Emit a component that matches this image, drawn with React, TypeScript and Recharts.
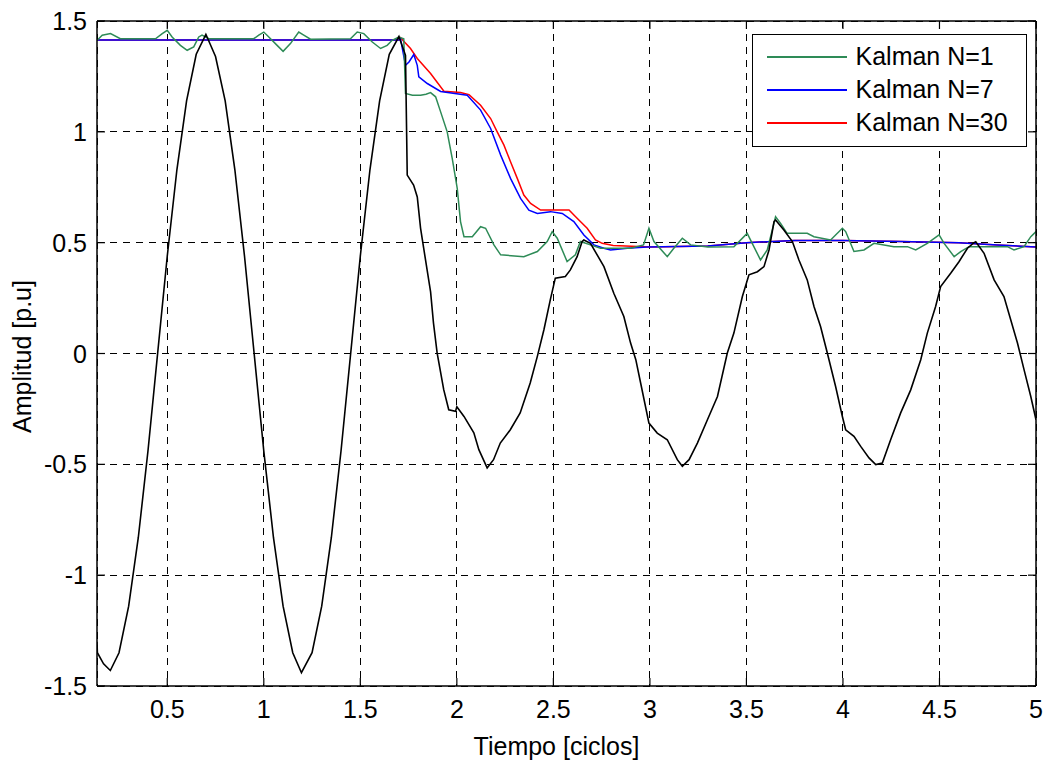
import React from "react";
import { LineChart, Line, XAxis, YAxis, CartesianGrid, Legend } from "recharts";

// x in cycles, y in p.u.
const X_MIN = 0.136;
const X_MAX = 5;
const xTicks = [0.5, 1, 1.5, 2, 2.5, 3, 3.5, 4, 4.5, 5];
const yTicks = [-1.5, -1, -0.5, 0, 0.5, 1, 1.5];

const measured: [number, number][] = [
  [0.136, -1.3], [0.138, -1.35], [0.17, -1.4], [0.205, -1.43], [0.25, -1.35],
  [0.3, -1.14], [0.35, -0.83], [0.4, -0.44], [0.45, 0.0], [0.5, 0.44],
  [0.55, 0.83], [0.6, 1.14], [0.65, 1.35], [0.7, 1.44], [0.75, 1.34],
  [0.8, 1.14], [0.85, 0.83], [0.9, 0.44], [0.95, 0.0], [1.0, -0.44],
  [1.05, -0.83], [1.1, -1.14], [1.15, -1.35], [1.195, -1.44], [1.25, -1.35],
  [1.3, -1.14], [1.35, -0.83], [1.4, -0.44], [1.45, 0.0], [1.5, 0.44],
  [1.55, 0.83], [1.6, 1.14], [1.65, 1.35], [1.7, 1.43], [1.734, 1.345],
  [1.743, 0.805], [1.776, 0.76], [1.795, 0.706], [1.812, 0.566], [1.828, 0.476],
  [1.864, 0.278], [1.879, 0.137], [1.898, 0.002], [1.932, -0.163], [1.958, -0.254],
  [1.993, -0.261], [2.0, -0.24], [2.037, -0.284], [2.088, -0.358], [2.114, -0.434],
  [2.157, -0.516], [2.19, -0.479], [2.225, -0.404], [2.277, -0.344], [2.328, -0.268],
  [2.38, -0.133], [2.417, -0.013], [2.451, 0.107], [2.484, 0.242], [2.51, 0.34],
  [2.562, 0.347], [2.588, 0.377], [2.623, 0.437], [2.649, 0.505], [2.658, 0.512],
  [2.692, 0.497], [2.762, 0.392], [2.813, 0.272], [2.865, 0.167], [2.9, 0.047],
  [2.927, -0.028], [2.952, -0.133], [2.995, -0.314], [3.038, -0.359], [3.09, -0.389],
  [3.142, -0.479], [3.168, -0.509], [3.203, -0.479], [3.246, -0.404], [3.298, -0.299],
  [3.35, -0.194], [3.401, 0.002], [3.435, 0.092], [3.479, 0.257], [3.513, 0.355],
  [3.557, 0.369], [3.591, 0.392], [3.617, 0.467], [3.643, 0.595], [3.651, 0.602],
  [3.694, 0.557], [3.738, 0.505], [3.772, 0.422], [3.815, 0.332], [3.85, 0.212],
  [3.884, 0.122], [3.919, 0.002], [3.962, -0.149], [3.997, -0.284], [4.014, -0.344],
  [4.057, -0.374], [4.092, -0.419], [4.135, -0.471], [4.17, -0.501], [4.204, -0.494],
  [4.247, -0.389], [4.299, -0.268], [4.351, -0.164], [4.403, -0.028], [4.437, 0.092],
  [4.48, 0.212], [4.506, 0.302], [4.558, 0.362], [4.601, 0.414], [4.645, 0.475],
  [4.679, 0.5], [4.688, 0.504], [4.731, 0.452], [4.783, 0.332], [4.834, 0.257],
  [4.869, 0.152], [4.904, 0.047], [4.938, -0.073], [4.973, -0.194], [5.0, -0.299],
];

const kalmanN1: [number, number][] = [
  [0.137, 1.413], [0.163, 1.436], [0.206, 1.443], [0.257, 1.42], [0.439, 1.42],
  [0.474, 1.443], [0.5, 1.458], [0.525, 1.428], [0.568, 1.39], [0.603, 1.368],
  [0.637, 1.383], [0.663, 1.428], [0.68, 1.436], [0.715, 1.42], [0.948, 1.42],
  [0.974, 1.436], [1.0, 1.45], [1.026, 1.428], [1.069, 1.39], [1.1, 1.363],
  [1.138, 1.398], [1.181, 1.45], [1.207, 1.436], [1.242, 1.418], [1.449, 1.42],
  [1.484, 1.45], [1.518, 1.443], [1.562, 1.405], [1.605, 1.376], [1.639, 1.39],
  [1.665, 1.413], [1.699, 1.428], [1.725, 1.42], [1.734, 1.173], [1.77, 1.165],
  [1.812, 1.165], [1.84, 1.17], [1.864, 1.177], [1.89, 1.158], [1.916, 1.09],
  [1.95, 1.0], [1.976, 0.88], [2.002, 0.745], [2.019, 0.595], [2.037, 0.527],
  [2.08, 0.527], [2.123, 0.572], [2.149, 0.565], [2.192, 0.49], [2.227, 0.445],
  [2.347, 0.437], [2.417, 0.46], [2.468, 0.505], [2.494, 0.55], [2.52, 0.52],
  [2.571, 0.415], [2.614, 0.445], [2.64, 0.505], [2.692, 0.49], [2.744, 0.475],
  [2.9, 0.475], [2.967, 0.49], [2.995, 0.565], [3.021, 0.505], [3.09, 0.437],
  [3.124, 0.475], [3.168, 0.52], [3.211, 0.49], [3.3, 0.48], [3.435, 0.482],
  [3.504, 0.542], [3.53, 0.497], [3.573, 0.422], [3.608, 0.467], [3.651, 0.617],
  [3.677, 0.587], [3.711, 0.542], [3.815, 0.542], [3.85, 0.527], [3.936, 0.512],
  [3.997, 0.565], [4.014, 0.55], [4.057, 0.46], [4.109, 0.467], [4.161, 0.497],
  [4.264, 0.482], [4.334, 0.482], [4.377, 0.467], [4.437, 0.497], [4.498, 0.535],
  [4.524, 0.497], [4.576, 0.437], [4.61, 0.46], [4.653, 0.482], [4.748, 0.482],
  [4.852, 0.482], [4.886, 0.467], [4.938, 0.482], [4.973, 0.527], [5.0, 0.55],
];

const kalmanN7: [number, number][] = [
  [0.136, 1.414], [1.7, 1.414], [1.708, 1.42], [1.734, 1.3], [1.752, 1.315],
  [1.777, 1.349], [1.795, 1.3], [1.803, 1.248], [1.847, 1.218], [1.916, 1.182],
  [2.054, 1.165], [2.123, 1.098], [2.175, 1.015], [2.227, 0.895], [2.278, 0.79],
  [2.33, 0.7], [2.373, 0.647], [2.417, 0.632], [2.485, 0.64], [2.546, 0.632],
  [2.606, 0.595], [2.658, 0.535], [2.71, 0.49], [2.762, 0.475], [2.796, 0.467],
  [2.883, 0.475], [2.986, 0.48], [3.3, 0.485], [3.5, 0.5], [3.75, 0.51],
  [4.0, 0.51], [4.3, 0.505], [4.6, 0.5], [4.8, 0.49], [5.0, 0.48],
];

const kalmanN30: [number, number][] = [
  [0.136, 1.414], [1.7, 1.414], [1.708, 1.425], [1.76, 1.376], [1.795, 1.331],
  [1.864, 1.263], [1.933, 1.183], [2.019, 1.177], [2.063, 1.168], [2.123, 1.12],
  [2.175, 1.06], [2.209, 1.0], [2.244, 0.94], [2.278, 0.865], [2.313, 0.79],
  [2.347, 0.715], [2.382, 0.677], [2.434, 0.647], [2.581, 0.647], [2.623, 0.61],
  [2.675, 0.565], [2.718, 0.512], [2.753, 0.497], [2.81, 0.487], [3.0, 0.48],
  [3.3, 0.485], [3.5, 0.5], [3.75, 0.51], [4.0, 0.51], [4.3, 0.505],
  [4.6, 0.5], [4.8, 0.49], [5.0, 0.48],
];

const legendOrder = ["Kalman N=1", "Kalman N=7", "Kalman N=30"];

const FONT = '"Liberation Sans", Arial, Helvetica, sans-serif';
const FS = 25;
const TICK = 8;
const GREEN = "#2e8b57";

const toPoints = (s: [number, number][]) => s.map(([x, y]) => ({ x, y }));

function BottomTick({ x, y, payload }: any) {
  return (
    <g>
      <line x1={x} y1={y} x2={x} y2={y - TICK} stroke="#000" strokeWidth={1.2} />
      <text x={x} y={y + 32} textAnchor="middle" fontSize={FS} fontFamily={FONT} fill="#000">
        {String(payload.value)}
      </text>
    </g>
  );
}

function LeftTick({ x, y, payload }: any) {
  return (
    <g>
      <line x1={x} y1={y} x2={x + TICK} y2={y} stroke="#000" strokeWidth={1.2} />
      <text x={x - 10} y={y + 9} textAnchor="end" fontSize={FS} fontFamily={FONT} fill="#000">
        {String(payload.value)}
      </text>
    </g>
  );
}

function TopTick({ x, y }: any) {
  return <line x1={x} y1={y} x2={x} y2={y + TICK} stroke="#000" strokeWidth={1.2} />;
}

function RightTick({ x, y }: any) {
  return <line x1={x} y1={y} x2={x - TICK} y2={y} stroke="#000" strokeWidth={1.2} />;
}

function LegendBox({ payload }: any) {
  const items = legendOrder
    .map((n) => (payload || []).find((p: any) => p.value === n))
    .filter(Boolean);
  return (
    <div
      style={{
        width: 275,
        height: 113,
        boxSizing: "border-box",
        border: "1.5px solid #000",
        background: "#fff",
        paddingTop: 5,
        fontFamily: FONT,
        fontSize: FS,
        color: "#000",
      }}
    >
      {items.map((it: any) => (
        <div key={it.value} style={{ display: "flex", alignItems: "center", height: 33 }}>
          <svg width={80} height={4} style={{ marginLeft: 13.5, marginRight: 9 }}>
            <line x1={0} y1={2} x2={80} y2={2} stroke={it.color} strokeWidth={2} />
          </svg>
          <span style={{ lineHeight: "33px", whiteSpace: "nowrap" }}>{it.value}</span>
        </div>
      ))}
    </div>
  );
}

export default function App() {
  return (
    <div style={{ position: "absolute", left: 0, top: 0, background: "#fff" }}>
      <LineChart width={1050} height={764} margin={{ top: 0, right: 0, bottom: 0, left: 0 }}>
        <CartesianGrid stroke="#000" strokeWidth={1} strokeDasharray="7 6" shapeRendering="crispEdges" />
        <XAxis
          type="number"
          dataKey="x"
          domain={[X_MIN, X_MAX]}
          allowDataOverflow
          ticks={xTicks}
          interval={0}
          height={78}
          tickSize={0}
          tickMargin={0}
          tickLine={false}
          axisLine={{ stroke: "#000", strokeWidth: 1.5 }}
          tick={<BottomTick />}
          label={{
            content: (p: any) => (
              <text
                x={p.viewBox.x + p.viewBox.width / 2 - 10}
                y={p.viewBox.y + 69}
                textAnchor="middle"
                fontSize={FS}
                fontFamily={FONT}
                fill="#000"
              >
                Tiempo [ciclos]
              </text>
            ),
          }}
        />
        <XAxis
          xAxisId="top"
          orientation="top"
          type="number"
          dataKey="x"
          domain={[X_MIN, X_MAX]}
          allowDataOverflow
          ticks={xTicks}
          interval={0}
          height={21}
          tickSize={0}
          tickMargin={0}
          tickLine={false}
          axisLine={{ stroke: "#000", strokeWidth: 1.5 }}
          tick={<TopTick />}
        />
        <YAxis
          type="number"
          domain={[-1.5, 1.5]}
          allowDataOverflow
          ticks={yTicks}
          interval={0}
          width={97}
          tickSize={0}
          tickMargin={0}
          tickLine={false}
          axisLine={{ stroke: "#000", strokeWidth: 1.5 }}
          tick={<LeftTick />}
          label={{
            content: (p: any) => {
              const cx = 31;
              const cy = p.viewBox.y + p.viewBox.height / 2 + 3;
              return (
                <text
                  x={cx}
                  y={cy}
                  transform={`rotate(-90 ${cx} ${cy})`}
                  textAnchor="middle"
                  fontSize={FS}
                  fontFamily={FONT}
                  fill="#000"
                >
                  Amplitud [p.u]
                </text>
              );
            },
          }}
        />
        <YAxis
          yAxisId="right"
          orientation="right"
          type="number"
          domain={[-1.5, 1.5]}
          allowDataOverflow
          ticks={yTicks}
          interval={0}
          width={14}
          tickSize={0}
          tickMargin={0}
          tickLine={false}
          axisLine={{ stroke: "#000", strokeWidth: 1.5 }}
          tick={<RightTick />}
        />
        <Line
          data={toPoints(kalmanN30)}
          dataKey="y"
          name="Kalman N=30"
          type="linear"
          stroke="#ff0000"
          strokeWidth={1.5}
          dot={false}
          activeDot={false}
          isAnimationActive={false}
        />
        <Line
          data={toPoints(kalmanN7)}
          dataKey="y"
          name="Kalman N=7"
          type="linear"
          stroke="#0000ff"
          strokeWidth={1.5}
          dot={false}
          activeDot={false}
          isAnimationActive={false}
        />
        <Line
          data={toPoints(kalmanN1)}
          dataKey="y"
          name="Kalman N=1"
          type="linear"
          stroke={GREEN}
          strokeWidth={1.5}
          dot={false}
          activeDot={false}
          isAnimationActive={false}
        />
        <Line
          data={toPoints(measured)}
          dataKey="y"
          name="Señal"
          type="linear"
          stroke="#000"
          strokeWidth={1.6}
          dot={false}
          activeDot={false}
          legendType="none"
          isAnimationActive={false}
        />
        <Legend
          layout="horizontal"
          verticalAlign="middle"
          align="center"
          wrapperStyle={{ left: 752, top: 34, width: 275, height: 113 }}
          content={<LegendBox />}
        />
      </LineChart>
    </div>
  );
}
